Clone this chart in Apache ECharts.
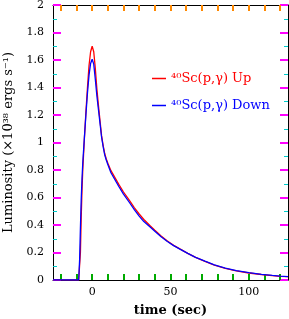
<!DOCTYPE html>
<html>
<head>
<meta charset="utf-8">
<script src="https://cdn.jsdelivr.net/npm/echarts@6/dist/echarts.min.js"></script>
<style>
html,body{margin:0;padding:0;background:#fff;}
#chart{width:289px;height:319px;}
</style>
</head>
<body>
<div id="chart"></div>
<script>
var times = [-25, -8.6, -8, -7.5, -7, -6.5, -6, -5, -4, -3, -2, -1, 0, 1, 2, 3, 4, 5, 6, 7, 8, 9, 10, 12, 14, 17, 20, 24, 27, 30, 33, 37, 40, 44, 48, 52, 56, 61, 66, 72, 78, 85, 92, 100, 108, 115, 120, 125];
var upValues = [0, 0, 0, 0.2, 0.45, 0.65, 0.8, 1.02, 1.22, 1.4, 1.56, 1.66, 1.70, 1.66, 1.54, 1.39, 1.27, 1.16, 1.05, 0.98, 0.92, 0.88, 0.85, 0.795, 0.755, 0.695, 0.64, 0.575, 0.525, 0.48, 0.44, 0.395, 0.362, 0.32, 0.283, 0.252, 0.226, 0.194, 0.164, 0.135, 0.108, 0.085, 0.066, 0.051, 0.04, 0.032, 0.027, 0.024];
var downValues = [0, 0, 0.15, 0.38, 0.58, 0.73, 0.85, 1.03, 1.2, 1.36, 1.49, 1.575, 1.605, 1.57, 1.46, 1.34, 1.24, 1.14, 1.04, 0.97, 0.91, 0.873, 0.84, 0.78, 0.74, 0.68, 0.625, 0.56, 0.51, 0.465, 0.425, 0.385, 0.355, 0.315, 0.28, 0.25, 0.225, 0.194, 0.165, 0.137, 0.11, 0.087, 0.068, 0.053, 0.041, 0.033, 0.028, 0.025];
var seriesNames = ['\u2074\u2070Sc(p,\u03b3) Up', '\u2074\u2070Sc(p,\u03b3) Down'];
var seriesColors = ['#ff0000', '#0000ff'];
var xLabelTicks = [0, 50, 100];
var xTickValues = [-20, -10, 0, 10, 20, 30, 40, 50, 60, 70, 80, 90, 100, 110, 120];
var xTitle = 'time (sec)';
var yTitle = 'Luminosity (\u00d710\u00b3\u2078 ergs s\u207b\u00b9)';

var FONT = 'DejaVu Serif';
function pairs(xs, ys){ return xs.map(function(x,i){ return [x, ys[i]]; }); }

var chart = echarts.init(document.getElementById('chart'), null, {renderer:'canvas'});

chart.setOption({
  animation:false,
  grid:{left:53, right:1, top:5, bottom:39, outerBoundsMode:'none'},
  xAxis:[
    {type:'value', min:-25, max:125, position:'bottom',
     axisLine:{show:true, onZero:false, lineStyle:{color:'#000'}},
     axisTick:{show:true, inside:true, length:6, customValues:xTickValues, lineStyle:{color:'#0a0', width:2}},
     axisLabel:{customValues:xLabelTicks, margin:7, color:'#000', fontFamily:FONT, fontSize:11},
     splitLine:{show:false},
     name:xTitle, nameLocation:'middle', nameGap:24,
     nameTextStyle:{color:'#000', fontFamily:FONT, fontSize:13, fontWeight:'bold'}},
    {type:'value', min:-25, max:125, position:'top',
     axisLine:{show:true, onZero:false, lineStyle:{color:'#000'}},
     axisTick:{show:true, inside:true, length:6, customValues:xTickValues, lineStyle:{color:'#f80', width:2}},
     axisLabel:{show:false}, splitLine:{show:false}}
  ],
  yAxis:[
    {type:'value', min:0, max:2, interval:0.2, position:'left',
     axisLine:{show:true, onZero:false, lineStyle:{color:'#000'}},
     axisTick:{show:true, inside:true, length:8, lineStyle:{color:'#f0f', width:2}},
     minorTick:{show:true, splitNumber:2, length:4, lineStyle:{color:'#0cc', width:1}},
     axisLabel:{margin:9, color:'#000', fontFamily:FONT, fontSize:11},
     splitLine:{show:false},
     name:yTitle, nameLocation:'middle', nameGap:37,
     nameTextStyle:{color:'#000', fontFamily:FONT, fontSize:13}},
    {type:'value', min:0, max:2, interval:0.2, position:'right',
     axisLine:{show:true, onZero:false, lineStyle:{color:'#000'}},
     axisTick:{show:true, inside:true, length:8, lineStyle:{color:'#f0f', width:2}},
     minorTick:{show:true, splitNumber:2, length:4, lineStyle:{color:'#0cc', width:1}},
     axisLabel:{show:false}, splitLine:{show:false}}
  ],
  legend:{
    orient:'vertical', left:147, top:67, itemGap:14,
    icon:'rect', itemWidth:14, itemHeight:1.5, itemTextGap:2,
    itemStyle:{borderWidth:0},
    data: seriesNames.map(function(n,i){ return {name:n, itemStyle:{color:seriesColors[i], borderWidth:0}, textStyle:{color:seriesColors[i]}}; }),
    textStyle:{fontFamily:FONT, fontSize:13}
  },
  series:[
    {name:seriesNames[0], type:'line', data:pairs(times, upValues), showSymbol:false, symbol:'none', color:seriesColors[0], lineStyle:{width:1.3, color:seriesColors[0]}},
    {name:seriesNames[1], type:'line', data:pairs(times, downValues), showSymbol:false, symbol:'none', color:seriesColors[1], lineStyle:{width:1.3, color:seriesColors[1]}}
  ]
});
</script>
</body>
</html>
